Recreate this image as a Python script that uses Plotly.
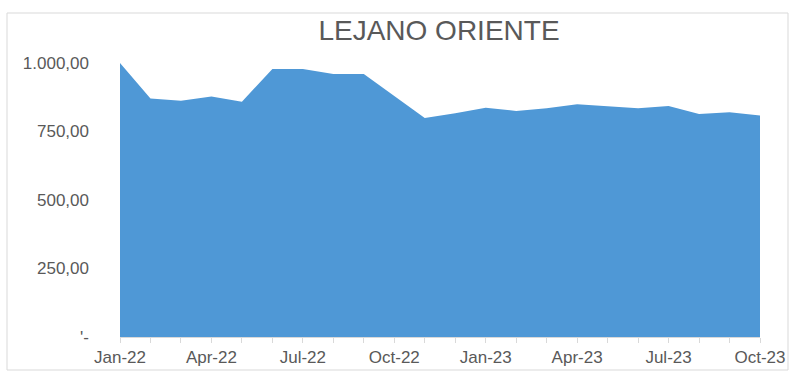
import plotly.graph_objects as go

months = ["Jan-22","Feb-22","Mar-22","Apr-22","May-22","Jun-22","Jul-22","Aug-22","Sep-22","Oct-22","Nov-22","Dec-22",
          "Jan-23","Feb-23","Mar-23","Apr-23","May-23","Jun-23","Jul-23","Aug-23","Sep-23","Oct-23"]
values = [1000, 870, 862, 878, 859, 978, 978, 960, 960, 880, 799, 817,
          837, 825, 835, 849, 841, 835, 843, 814, 820, 808]
y_ticks = [0, 250, 500, 750, 1000]
y_labels = ["'-", "250,00", "500,00", "750,00", "1.000,00"]

x_idx = list(range(len(months)))
x_labels = [m if i % 3 == 0 else "" for i, m in enumerate(months)]

fig = go.Figure()
fig.add_trace(go.Scatter(x=x_idx, y=values, mode="lines", fill="tozeroy",
                         line=dict(color="#4f98d6", width=0), fillcolor="#4f98d6",
                         hoverinfo="skip", showlegend=False))

fig.update_layout(
    width=802, height=384,
    margin=dict(l=120, r=42, t=63, b=47),
    paper_bgcolor="white", plot_bgcolor="white",
    font=dict(family="Liberation Sans, Arial", color="#595959", size=17),
    title=dict(text="LEJANO ORIENTE", x=439/802, xanchor="center", y=1-30/384, yanchor="middle",
               font=dict(size=28, color="#595959")),
    xaxis=dict(range=[0, len(months)-1], tickmode="array", tickvals=x_idx, ticktext=x_labels,
               showgrid=False, zeroline=False, showline=True, linecolor="#d9d9d9", linewidth=1,
               ticks="outside", ticklen=5, tickcolor="#d9d9d9", tickangle=0,
               tickfont=dict(size=17, color="#595959")),
    yaxis=dict(range=[0, 1000], tickmode="array", tickvals=y_ticks, ticktext=y_labels,
               showgrid=True, gridcolor="#d9d9d9", gridwidth=1, zeroline=False,
               showline=False, ticks="", ticklabelstandoff=30,
               tickfont=dict(size=17, color="#595959")),
    shapes=[dict(type="rect", xref="paper", yref="paper",
                 x0=(7-120)/640, x1=(788-120)/640, y0=(337-370)/274, y1=(337-13)/274,
                 line=dict(color="#d9d9d9", width=1), fillcolor="rgba(0,0,0,0)", layer="below")],
)

fig.write_html("out.html")
